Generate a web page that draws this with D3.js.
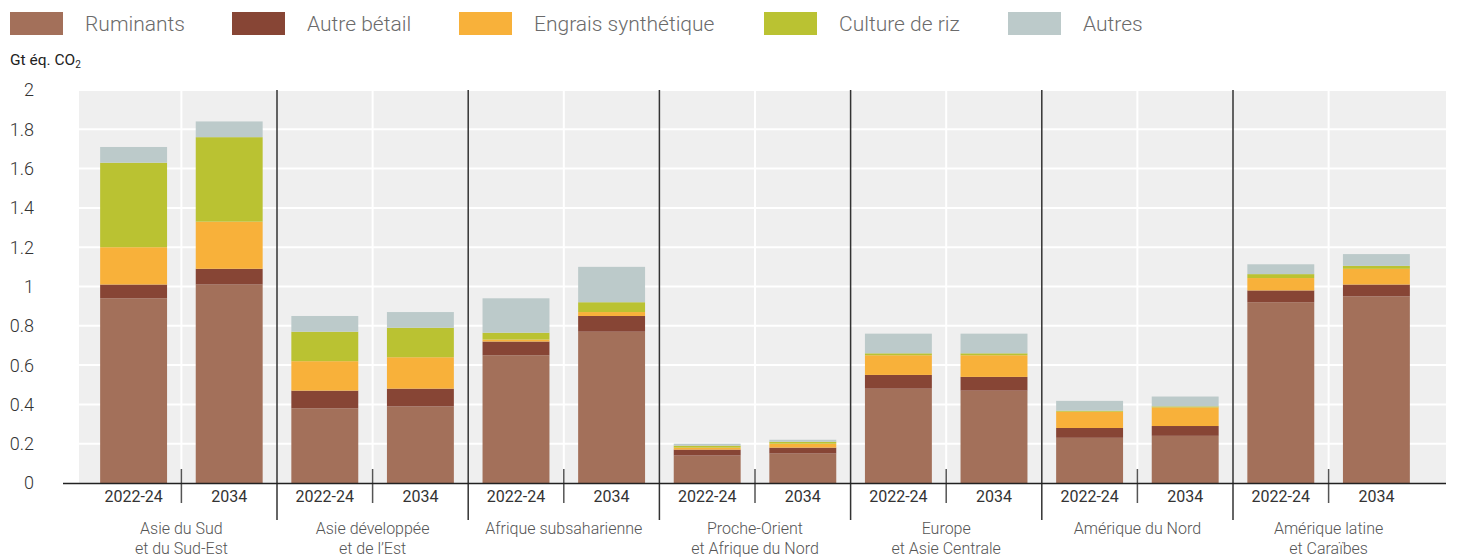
<!DOCTYPE html>
<html>
<head>
<meta charset="utf-8">
<script src="https://cdn.jsdelivr.net/npm/d3@7"></script>
<style>
  html, body { margin: 0; padding: 0; background: #fff; }
  svg { display: block; font-family: Roboto, "Noto Sans", sans-serif; }
</style>
</head>
<body>
<svg id="chart" width="1457" height="557"></svg>
<script>
// ---- Data ----
const regions = [
  ["Asie du Sud", "et du Sud-Est"],
  ["Asie développée", "et de l\u2019Est"],
  ["Afrique subsaharienne"],
  ["Proche-Orient", "et Afrique du Nord"],
  ["Europe", "et Asie Centrale"],
  ["Amérique du Nord"],
  ["Amérique latine", "et Caraïbes"]
];
const years = ["2022-24", "2034"];
const seriesNames = ["Ruminants", "Autre bétail", "Engrais synthétique", "Culture de riz", "Autres"];
// values per bar: region0 y0, region0 y1, region1 y0, ...
const ruminants   = [0.94, 1.01, 0.38, 0.39, 0.65, 0.77, 0.14, 0.15, 0.48, 0.47, 0.23, 0.24, 0.92, 0.95];
const autreBetail = [0.07, 0.08, 0.09, 0.09, 0.07, 0.08, 0.03, 0.03, 0.07, 0.07, 0.05, 0.05, 0.06, 0.06];
const engrais     = [0.19, 0.24, 0.15, 0.16, 0.01, 0.02, 0.01, 0.02, 0.10, 0.11, 0.083, 0.095, 0.063, 0.08];
const riz         = [0.43, 0.43, 0.15, 0.15, 0.035, 0.05, 0.01, 0.01, 0.01, 0.01, 0.005, 0.005, 0.02, 0.015];
const autres      = [0.08, 0.08, 0.08, 0.08, 0.175, 0.18, 0.01, 0.01, 0.10, 0.10, 0.05, 0.05, 0.05, 0.06];
const yTicks = [0, 0.2, 0.4, 0.6, 0.8, 1, 1.2, 1.4, 1.6, 1.8, 2];
const colors = ["#A3705A", "#874535", "#F8B13A", "#BAC232", "#BCCACA"];

// ---- Build table ----
const seriesValues = [ruminants, autreBetail, engrais, riz, autres];
const rows = [];
regions.forEach((r, ri) => {
  years.forEach((yr, yi) => {
    const idx = ri * years.length + yi;
    const row = { region: ri, year: yr };
    seriesNames.forEach((s, si) => row[s] = seriesValues[si][idx]);
    rows.push(row);
  });
});
const stacked = d3.stack().keys(seriesNames)(rows);

// ---- Scales ----
const svg = d3.select("#chart");
const plotLeft = 79, plotRight = 1446, plotTop = 90, plotBottom = 483;
const x0 = d3.scaleBand().domain(d3.range(regions.length)).range([85.8, 1424.2]).padding(0);
const x1 = d3.scaleBand().domain(years).range([0, x0.bandwidth()]).paddingInner(0.3).paddingOuter(0.15);
const y = d3.scaleLinear().domain([0, 2]).range([plotBottom, plotTop]);

// background
svg.append("rect").attr("x", plotLeft).attr("y", plotTop)
  .attr("width", plotRight - plotLeft).attr("height", plotBottom - plotTop)
  .attr("fill", "#EFEFEF");

// horizontal gridlines
svg.append("g").selectAll("line").data(yTicks.filter(t => t > 0)).join("line")
  .attr("x1", plotLeft).attr("x2", plotRight)
  .attr("y1", d => y(d)).attr("y2", d => y(d))
  .attr("stroke", "#fff").attr("stroke-width", 2);

// vertical white gridlines at group centers
svg.append("g").selectAll("line").data(d3.range(regions.length)).join("line")
  .attr("x1", d => x0(d) + x0.bandwidth() / 2).attr("x2", d => x0(d) + x0.bandwidth() / 2)
  .attr("y1", plotTop).attr("y2", plotBottom)
  .attr("stroke", "#fff").attr("stroke-width", 2);

// bars
svg.append("g").selectAll("g").data(stacked).join("g")
  .attr("fill", (d, i) => colors[i])
  .selectAll("rect").data(d => d).join("rect")
  .attr("x", d => x0(d.data.region) + x1(d.data.year))
  .attr("width", x1.bandwidth())
  .attr("y", d => y(d[1]))
  .attr("height", d => y(d[0]) - y(d[1]));

// group separators
svg.append("g").selectAll("line").data(d3.range(1, regions.length)).join("line")
  .attr("x1", d => x0(d)).attr("x2", d => x0(d))
  .attr("y1", plotTop).attr("y2", 520)
  .attr("stroke", "#333").attr("stroke-width", 1.5);

// mid ticks between years
svg.append("g").selectAll("line").data(d3.range(regions.length)).join("line")
  .attr("x1", d => x0(d) + x0.bandwidth() / 2).attr("x2", d => x0(d) + x0.bandwidth() / 2)
  .attr("y1", 469).attr("y2", 503)
  .attr("stroke", "#555").attr("stroke-width", 1.5);

// x axis line
svg.append("line").attr("x1", 63).attr("x2", plotRight)
  .attr("y1", plotBottom + 0.5).attr("y2", plotBottom + 0.5)
  .attr("stroke", "#222").attr("stroke-width", 1.5);

// year labels
svg.append("g").selectAll("text").data(rows).join("text")
  .attr("x", d => x0(d.region) + x1(d.year) + x1.bandwidth() / 2)
  .attr("y", 502)
  .attr("text-anchor", "middle")
  .attr("font-size", 16).attr("fill", "#333")
  .text(d => d.year);

// region labels
const rg = svg.append("g").selectAll("text").data(regions).join("text")
  .attr("x", (d, i) => x0(i) + x0.bandwidth() / 2)
  .attr("y", 534)
  .attr("text-anchor", "middle")
  .attr("font-size", 16).attr("font-weight", 300).attr("fill", "#555");
rg.selectAll("tspan").data(d => d).join("tspan")
  .attr("x", function() { return this.parentNode.getAttribute("x"); })
  .attr("dy", (d, i) => i === 0 ? 0 : 19.5)
  .text(d => d);

// y tick labels
svg.append("g").selectAll("text").data(yTicks).join("text")
  .attr("x", 34).attr("y", d => y(d)).attr("dy", "0.36em")
  .attr("text-anchor", "end")
  .attr("font-size", 18).attr("font-weight", 300).attr("fill", "#333")
  .text(d => d3.format("~g")(d));

// y axis title
const yt = svg.append("text").attr("x", 10).attr("y", 65)
  .attr("font-size", 15.5).attr("fill", "#222");
yt.append("tspan").text("Gt éq. CO");
yt.append("tspan").attr("font-size", 10).attr("dy", 3).text("2");

// legend
const legendX = [10, 232, 459, 764, 1008];
const lg = svg.append("g").selectAll("g").data(seriesNames).join("g")
  .attr("transform", (d, i) => `translate(${legendX[i]},12)`);
lg.append("rect").attr("width", 53).attr("height", 23).attr("fill", (d, i) => colors[i]);
lg.append("text").attr("x", 75).attr("y", 18.5)
  .attr("font-size", 21).attr("font-weight", 300).attr("fill", "#6b6b6b")
  .text(d => d);
</script>
</body>
</html>
